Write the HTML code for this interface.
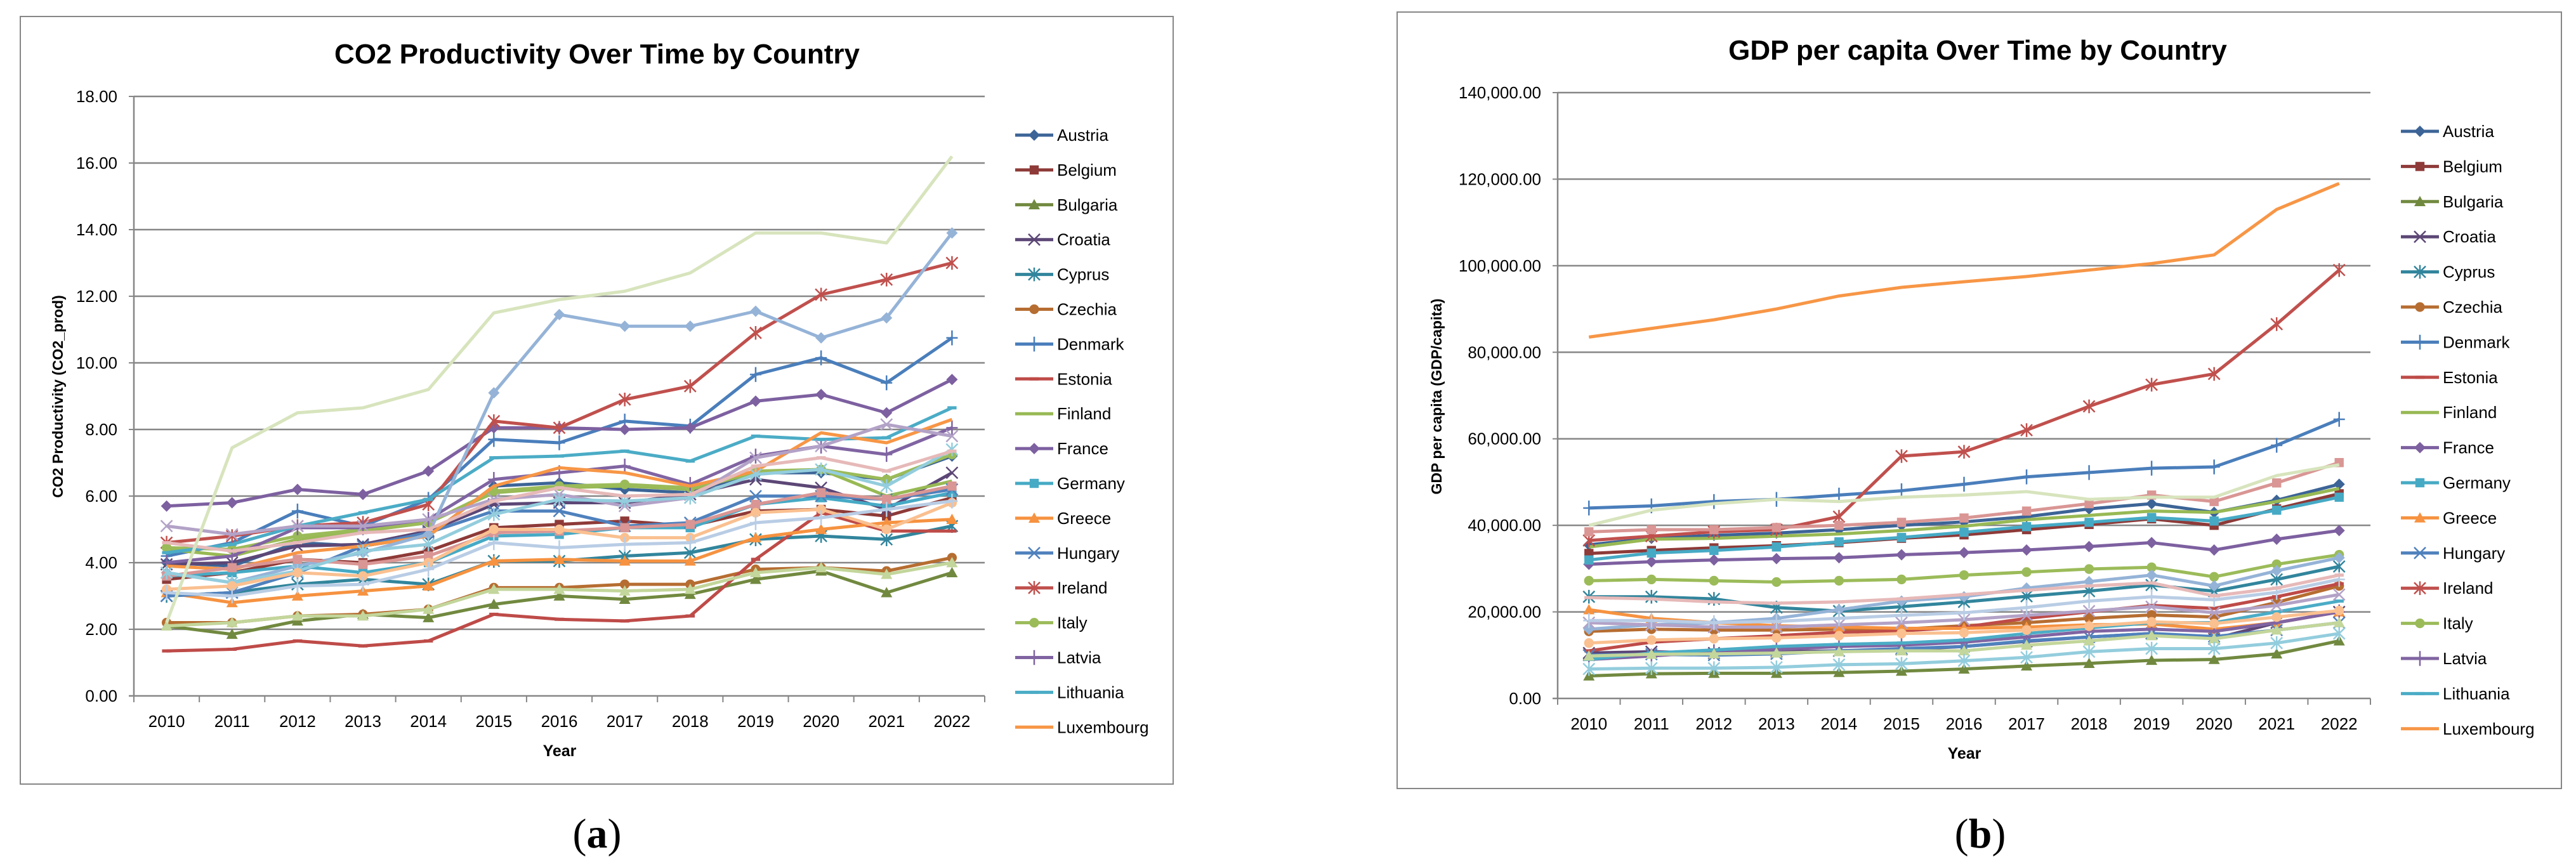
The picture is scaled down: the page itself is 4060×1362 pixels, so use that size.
<!DOCTYPE html>
<html><head><meta charset="utf-8">
<style>
html,body{margin:0;padding:0;background:#fff;}
svg{display:block;font-family:"Liberation Sans",Arial,sans-serif;}
</style></head>
<body>
<svg id="svg" width="4060" height="1362" viewBox="0 0 4060 1362" xmlns="http://www.w3.org/2000/svg">
<rect x="32" y="26" width="1817" height="1210" fill="#fff" stroke="#868686" stroke-width="2"/>
<rect x="2202" y="19" width="1835" height="1224" fill="#fff" stroke="#868686" stroke-width="2"/>
<text x="941" y="100" text-anchor="middle" font-size="44" font-weight="bold">CO2 Productivity Over Time by Country</text>
<text x="3117" y="94" text-anchor="middle" font-size="44" font-weight="bold">GDP per capita Over Time by Country</text>
<text x="882" y="1192" text-anchor="middle" font-size="25" font-weight="bold">Year</text>
<text x="3096" y="1196" text-anchor="middle" font-size="25" font-weight="bold">Year</text>
<text transform="translate(99,625) rotate(-90)" text-anchor="middle" font-size="23" font-weight="bold">CO2 Productivity (CO2_prod)</text>
<text transform="translate(2272,625) rotate(-90)" text-anchor="middle" font-size="23" font-weight="bold">GDP per capita (GDP/capita)</text>
<text x="941" y="1336" text-anchor="middle" font-size="66" font-family="Liberation Serif, serif">(<tspan font-weight="bold">a</tspan>)</text>
<text x="3121" y="1336" text-anchor="middle" font-size="66" font-family="Liberation Serif, serif">(<tspan font-weight="bold">b</tspan>)</text>
<g id="ga"></g>
<g id="gb"></g>
</svg>
<script>
const years = ["2010","2011","2012","2013","2014","2015","2016","2017","2018","2019","2020","2021","2022"];
const countries = ["Austria","Belgium","Bulgaria","Croatia","Cyprus","Czechia","Denmark","Estonia","Finland","France","Germany","Greece","Hungary","Ireland","Italy","Latvia","Lithuania","Luxembourg","Malta","Netherlands","Poland","Portugal","Romania","Slovakia","Slovenia","Spain","Sweden"];
const legendShown = 18;
const colors = ["#3C6497","#8E3A38","#71893F","#5C4776","#31859C","#B66D31","#4A7EBB","#BE4B48","#98B954","#7D60A0","#46AAC5","#F69240","#4F81BD","#C0504D","#9BBB59","#8064A2","#4BACC6","#F79646","#95B3D7","#D99694","#C3D69B","#B3A2C7","#93CDDD","#FAC090","#B9CDE5","#E6B9B8","#D7E4BD"];
const markers = ["diamond","square","triangle","x","star","circle","plus","dash","none"];
const co2Ticks = ["0.00","2.00","4.00","6.00","8.00","10.00","12.00","14.00","16.00","18.00"];
const gdpTicks = ["0.00","20,000.00","40,000.00","60,000.00","80,000.00","100,000.00","120,000.00","140,000.00"];
const co2Austria=[4.0,3.9,4.6,4.5,4.8,6.3,6.4,6.2,6.1,6.7,6.7,6.5,7.2];
const co2Belgium=[3.5,3.7,4.1,4.0,4.35,5.05,5.15,5.25,5.1,5.55,5.6,5.4,5.95];
const co2Bulgaria=[2.1,1.85,2.25,2.45,2.35,2.75,3.0,2.9,3.05,3.5,3.75,3.1,3.7];
const co2Croatia=[3.95,4.0,4.5,4.55,4.95,5.75,5.8,5.8,6.05,6.5,6.25,5.6,6.7];
const co2Cyprus=[3.0,3.1,3.35,3.5,3.35,4.05,4.05,4.2,4.3,4.7,4.8,4.7,5.1];
const co2Czechia=[2.2,2.2,2.4,2.45,2.6,3.25,3.25,3.35,3.35,3.8,3.85,3.75,4.15];
const co2Denmark=[4.2,4.6,5.55,5.1,5.9,7.7,7.6,8.25,8.1,9.65,10.15,9.4,10.75];
const co2Estonia=[1.35,1.4,1.65,1.5,1.65,2.45,2.3,2.25,2.4,4.1,5.5,4.95,4.95];
const co2Finland=[4.4,4.2,4.7,4.95,5.2,6.1,6.25,6.3,6.2,6.7,6.8,6.0,6.45];
const co2France=[5.7,5.8,6.2,6.05,6.75,8.05,8.05,8.0,8.05,8.85,9.05,8.5,9.5];
const co2Germany=[3.6,3.7,3.9,3.7,4.0,4.8,4.85,5.05,5.05,5.75,5.95,5.7,6.1];
const co2Greece=[3.1,2.8,3.0,3.15,3.3,4.05,4.1,4.05,4.05,4.75,5.0,5.2,5.3];
const co2Hungary=[3.0,3.1,3.7,4.5,4.9,5.55,5.55,5.1,5.2,6.0,6.0,5.9,6.2];
const co2Ireland=[4.6,4.8,5.1,5.2,5.75,8.25,8.05,8.9,9.3,10.9,12.05,12.5,13.0];
const co2Italy=[4.45,4.4,4.8,5.0,5.2,6.15,6.3,6.35,6.25,6.75,6.8,6.5,7.25];
const co2Latvia=[4.0,4.2,5.05,5.05,5.3,6.5,6.7,6.9,6.35,7.2,7.5,7.25,8.05];
const co2Lithuania=[4.3,4.55,5.1,5.5,5.9,7.15,7.2,7.35,7.05,7.8,7.7,7.75,8.65];
const co2Luxembourg=[3.9,3.8,4.3,4.5,4.8,6.3,6.85,6.7,6.3,6.75,7.9,7.6,8.3];
const co2Malta=[3.7,3.4,3.9,4.3,4.85,9.1,11.45,11.1,11.1,11.55,10.75,11.35,13.9];
const co2Netherlands=[3.6,3.85,4.1,3.95,4.2,4.9,4.95,5.05,5.15,5.75,6.1,5.9,6.3];
const co2Poland=[2.1,2.2,2.4,2.4,2.6,3.2,3.2,3.15,3.2,3.7,3.85,3.65,4.0];
const co2Portugal=[5.1,4.85,5.1,5.1,5.3,5.9,6.05,5.7,5.95,7.15,7.5,8.15,7.8];
const co2Romania=[3.7,3.4,3.75,4.35,4.55,5.45,5.9,5.85,5.95,6.65,6.8,6.3,7.4];
const co2Slovakia=[3.2,3.3,3.7,3.6,4.0,5.0,5.0,4.75,4.75,5.5,5.6,5.0,5.8];
const co2Slovenia=[3.1,3.0,3.3,3.35,3.8,4.6,4.45,4.55,4.6,5.2,5.35,5.6,5.85];
const co2Spain=[4.6,4.35,4.6,4.9,5.0,5.85,6.25,6.0,6.05,6.9,7.15,6.75,7.35];
const co2Sweden=[2.2,7.45,8.5,8.65,9.2,11.5,11.9,12.15,12.7,13.9,13.9,13.6,16.2];
const gdpAustria=[35.5,37,37.7,38.2,39,40,40.8,42,43.8,45,43,45.8,49.5];
const gdpBelgium=[33.5,34.2,34.8,35.3,36,37,37.8,39,40.2,41.5,40,43.8,47.3];
const gdpBulgaria=[5.2,5.7,5.8,5.8,6,6.3,6.8,7.5,8.1,8.8,9,10.3,13.3];
const gdpCroatia=[10.5,10.8,10.5,10.8,11,11.3,12,13.2,14.2,15,13.8,17.5,20];
const gdpCyprus=[23.5,23.5,23,21,20.2,21.2,22.3,23.6,24.8,26.2,24.8,27.5,30.5];
const gdpCzechia=[15.5,16,15.8,15.8,16,16,16.8,17.5,18.5,19.3,18.8,22.2,26];
const gdpDenmark=[44,44.5,45.5,46,47,48,49.5,51.2,52.2,53.2,53.5,58.5,64.5];
const gdpEstonia=[11,13,13.8,14.5,15.3,15.6,16.5,18.5,20,21.5,20.8,23.5,26.5];
const gdpFinland=[35,36.8,37,37.5,38,38.8,39.8,41.3,42.3,43.3,43,45.5,48.5];
const gdpFrance=[31,31.6,32,32.3,32.5,33.2,33.7,34.3,35.1,36,34.3,36.8,38.8];
const gdpGermany=[32,33.6,34.2,35,36.2,37.2,38.4,39.7,40.7,41.8,41,43.5,46.5];
const gdpGreece=[20.5,18.5,17.5,16.8,16.5,16.2,16.2,16.5,17,17.2,16,17.5,20];
const gdpHungary=[10,10.2,10,10.3,11,11.5,12,13.3,14.2,15,14.3,15.8,17.5];
const gdpIreland=[36.5,37.5,38.5,39,42,56,57,62,67.5,72.5,75,86.5,99];
const gdpItaly=[27.2,27.5,27.2,26.9,27.2,27.5,28.5,29.2,29.9,30.3,28.1,31,33.2];
const gdpLatvia=[9,9.8,10.8,11.3,12,12.3,13,14.2,15.5,16,15.5,17.5,20];
const gdpLithuania=[9,10.5,11.2,12,12.5,12.8,13.5,15,16.3,17.5,17.5,20,22.5];
const gdpLuxembourg=[83.5,85.5,87.5,90,93,95,96.3,97.5,99,100.5,102.5,113,119];
const gdpMalta=[16,17,17.5,18.5,20.5,22.5,23.5,25.5,27,28.5,26,29.5,32.5];
const gdpNetherlands=[38.5,39,39,39.5,40,40.7,41.7,43.3,45,47,45.5,49.8,54.5];
const gdpPoland=[9.8,10.2,10.3,10.5,10.8,11,11,12.3,13.3,14.5,13.8,15.8,17.5];
const gdpPortugal=[17.5,17,16.5,16.5,17,17.5,18.2,19.2,20.2,21.2,19.8,21.5,24];
const gdpRomania=[6.8,7,7,7.2,7.8,8,8.7,9.5,10.8,11.5,11.5,12.8,15];
const gdpSlovakia=[12.8,13.5,13.8,14,14.5,15,15.2,15.8,16.7,17.7,17.3,18.8,20.3];
const gdpSlovenia=[18,18,17.5,17.8,18.5,19.2,19.8,21,22.5,23.5,22.8,24.5,27.5];
const gdpSpain=[23.3,23,22.3,22,22.3,23,24,25,26,26.7,23.7,25.5,28.5];
const gdpSweden=[40,43.5,45,46,45.5,46.5,47,47.8,46,46.5,46.5,51.5,54];

const co2Series=[co2Austria,co2Belgium,co2Bulgaria,co2Croatia,co2Cyprus,co2Czechia,co2Denmark,co2Estonia,co2Finland,co2France,co2Germany,co2Greece,co2Hungary,co2Ireland,co2Italy,co2Latvia,co2Lithuania,co2Luxembourg,co2Malta,co2Netherlands,co2Poland,co2Portugal,co2Romania,co2Slovakia,co2Slovenia,co2Spain,co2Sweden];
const gdpSeries=[gdpAustria,gdpBelgium,gdpBulgaria,gdpCroatia,gdpCyprus,gdpCzechia,gdpDenmark,gdpEstonia,gdpFinland,gdpFrance,gdpGermany,gdpGreece,gdpHungary,gdpIreland,gdpItaly,gdpLatvia,gdpLithuania,gdpLuxembourg,gdpMalta,gdpNetherlands,gdpPoland,gdpPortugal,gdpRomania,gdpSlovakia,gdpSlovenia,gdpSpain,gdpSweden];

const NS="http://www.w3.org/2000/svg";
function mk(tag,attrs,parent){const e=document.createElementNS(NS,tag);for(const k in attrs)e.setAttribute(k,attrs[k]);parent.appendChild(e);return e;}

function drawMarker(g,type,x,y,c,s){
  let e=null;
  if(type==="diamond"){e=mk("polygon",{points:`${x},${y-s} ${x+s},${y} ${x},${y+s} ${x-s},${y}`,fill:c},g);}
  else if(type==="square"){e=mk("rect",{x:x-s*0.8,y:y-s*0.8,width:s*1.6,height:s*1.6,fill:c},g);}
  else if(type==="triangle"){e=mk("polygon",{points:`${x},${y-s} ${x+s},${y+s*0.8} ${x-s},${y+s*0.8}`,fill:c},g);}
  else if(type==="circle"){e=mk("circle",{cx:x,cy:y,r:s*0.85,fill:c},g);}
  else if(type==="x"){e=mk("path",{d:`M${x-s} ${y-s}L${x+s} ${y+s}M${x-s} ${y+s}L${x+s} ${y-s}`,stroke:c,"stroke-width":2.5,fill:"none"},g);}
  else if(type==="star"){e=mk("path",{d:`M${x-s} ${y-s}L${x+s} ${y+s}M${x-s} ${y+s}L${x+s} ${y-s}M${x} ${y-s*1.2}L${x} ${y+s*1.2}`,stroke:c,"stroke-width":2.5,fill:"none"},g);}
  else if(type==="plus"){e=mk("path",{d:`M${x-s} ${y}L${x+s} ${y}M${x} ${y-s*1.3}L${x} ${y+s*1.3}`,stroke:c,"stroke-width":2.5,fill:"none"},g);}
  else if(type==="dash"){e=mk("path",{d:`M${x-s*0.8} ${y}L${x+s*0.8} ${y}`,stroke:c,"stroke-width":5,fill:"none"},g);}
  if(e){
    
    
  }
}

function drawChart(g,opt,series,ticks,ymax,prefix){
  const L=opt.left,R=opt.right,T=opt.top,B=opt.bottom;
  const n=years.length,bw=(R-L)/n;
  const xs=i=>L+bw*(i+0.5);
  const ys=v=>B-(v/ymax)*(B-T);
  const step=ymax/(ticks.length-1);
  ticks.forEach((t,i)=>{
    const y=ys(step*i);
    if(i>0){const gl=mk("line",{x1:L,x2:R,y1:y,y2:y,stroke:"#868686","stroke-width":2.5},g);
      
      }
    const tl=mk("text",{x:opt.tickRight,y:y+9,"text-anchor":"end","font-size":26},g);tl.textContent=t;
    
    
    const tk=mk("line",{x1:L-8,x2:L,y1:y,y2:y,stroke:"#868686","stroke-width":2},g);
    
    
  });
  const ya=mk("line",{x1:L,x2:L,y1:T,y2:B,stroke:"#868686","stroke-width":2.5},g);
  
  
  const xa=mk("line",{x1:L-8,x2:R,y1:B,y2:B,stroke:"#868686","stroke-width":2.5},g);
  
  
  for(let i=0;i<=n;i++){const x=L+bw*i;const tk=mk("line",{x1:x,x2:x,y1:B,y2:B+10,stroke:"#868686","stroke-width":2},g);
    
    }
  years.forEach((yr,i)=>{const t=mk("text",{x:xs(i),y:B+49,"text-anchor":"middle","font-size":26},g);t.textContent=yr;
    
    });
  series.forEach((vals,si)=>{
    const c=colors[si];
    const sg=mk("g",{},g);
    
    
    const pts=vals.map((v,i)=>xs(i)+","+ys(v)).join(" ");
    const pl=mk("polyline",{points:pts,fill:"none",stroke:c,"stroke-width":5,"stroke-linejoin":"round"},sg);
    
    
    const mt=markers[si%markers.length];
    vals.forEach((v,i)=>drawMarker(sg,mt,xs(i),ys(v),c,9));
  });
  for(let si=0;si<legendShown;si++){
    const y=opt.legTop+opt.legStep*si;
    const lg=mk("g",{},g);
    
    
    mk("line",{x1:opt.legX,x2:opt.legX+60,y1:y,y2:y,stroke:colors[si],"stroke-width":5},lg);
    drawMarker(lg,markers[si%markers.length],opt.legX+30,y,colors[si],9);
    const t=mk("text",{x:opt.legX+66,y:y+9,"font-size":26},lg);t.textContent=countries[si];
  }
}
drawChart(document.getElementById("ga"),{left:211,right:1552,top:152,bottom:1097,tickRight:185,legX:1600,legTop:213,legStep:54.9},co2Series,co2Ticks,18,"co2");
drawChart(document.getElementById("gb"),{left:2455,right:3736,top:146,bottom:1101,tickRight:2429,legX:3784,legTop:207,legStep:55.4},gdpSeries,gdpTicks,140,"gdp");
</script>
</body></html>
